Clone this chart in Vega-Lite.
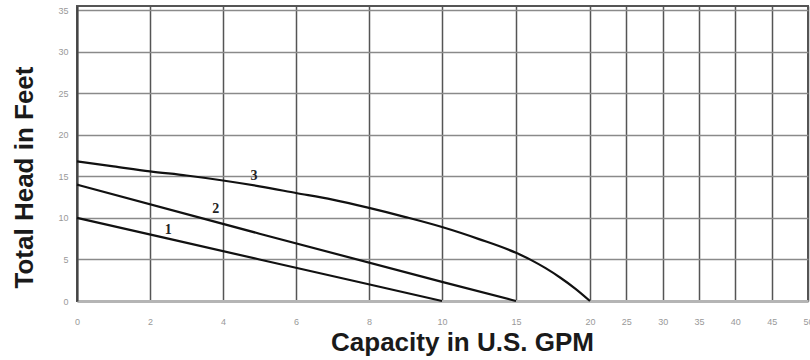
{
  "$schema": "https://vega.github.io/schema/vega-lite/v6.json",
  "autosize": "none",
  "width": 731,
  "height": 295,
  "padding": {"left": 77, "top": 6, "right": 2, "bottom": 59},
  "background": "white",
  "config": {
    "view": {"stroke": "#555", "strokeWidth": 2},
    "font": "Liberation Sans"
  },
  "datasets": {
    "curves": [
      {"series": "1", "gpm": 0, "head": 10},
      {"series": "1", "gpm": 5, "head": 5},
      {"series": "1", "gpm": 10, "head": 0},
      {"series": "2", "gpm": 0, "head": 14},
      {"series": "2", "gpm": 5, "head": 8.1},
      {"series": "2", "gpm": 10, "head": 2.3},
      {"series": "2", "gpm": 15, "head": 0},
      {"series": "3", "gpm": 0, "head": 16.8},
      {"series": "3", "gpm": 1, "head": 16.2},
      {"series": "3", "gpm": 2, "head": 15.6},
      {"series": "3", "gpm": 3, "head": 15.1},
      {"series": "3", "gpm": 4, "head": 14.5},
      {"series": "3", "gpm": 5, "head": 13.8},
      {"series": "3", "gpm": 6, "head": 13.0},
      {"series": "3", "gpm": 7, "head": 12.2},
      {"series": "3", "gpm": 8, "head": 11.2},
      {"series": "3", "gpm": 9, "head": 10.1},
      {"series": "3", "gpm": 10, "head": 8.9},
      {"series": "3", "gpm": 12.5, "head": 7.45},
      {"series": "3", "gpm": 15, "head": 5.8},
      {"series": "3", "gpm": 16, "head": 4.95},
      {"series": "3", "gpm": 17, "head": 3.95},
      {"series": "3", "gpm": 18, "head": 2.8},
      {"series": "3", "gpm": 19, "head": 1.5},
      {"series": "3", "gpm": 20, "head": 0}
    ],
    "labels": [
      {"gpm": 2.5, "head": 8.6, "label": "1"},
      {"gpm": 3.8, "head": 11.1, "label": "2"},
      {"gpm": 4.85, "head": 15.1, "label": "3"}
    ]
  },
  "layer": [
    {
      "data": {"name": "curves"},
      "mark": {"type": "line", "color": "#111", "strokeWidth": 2.2, "interpolate": "monotone"},
      "encoding": {
        "x": {
          "field": "gpm", "type": "quantitative",
          "scale": {"domain": [0, 10, 20, 50], "range": [0, 365, 513, 731], "nice": false, "zero": false},
          "axis": {
            "values": [0, 2, 4, 6, 8, 10, 15, 20, 25, 30, 35, 40, 45, 50],
            "labelFontSize": 9, "labelColor": "#999", "labelPadding": 16,
            "labelOverlap": false, "labelFlush": false,
            "ticks": false,
            "domainColor": "#b5b5b5", "domainWidth": 3,
            "grid": true, "gridColor": "#555", "gridWidth": 1.5,
            "title": "Capacity in U.S. GPM",
            "titleFont": "Liberation Sans", "titleFontSize": 26, "titleFontWeight": "bold",
            "titleColor": "#1a1a1a",
            "titleX": 385, "titleY": 41, "titleAlign": "center", "titleBaseline": "middle"
          }
        },
        "y": {
          "field": "head", "type": "quantitative",
          "scale": {"domain": [0, 35.5], "nice": false},
          "axis": {
            "values": [0, 5, 10, 15, 20, 25, 30, 35],
            "labelFontSize": 9, "labelColor": "#999", "labelPadding": 9,
            "labelOverlap": false, "labelFlush": false,
            "ticks": false,
            "domainColor": "#444", "domainWidth": 2,
            "grid": true, "gridColor": "#8a8a8a", "gridWidth": 1.5,
            "title": "Total Head in Feet",
            "titleFont": "Liberation Sans", "titleFontSize": 26, "titleFontWeight": "bold",
            "titleColor": "#1a1a1a",
            "titleAngle": 270,
            "titleX": -53, "titleY": 171, "titleAlign": "center", "titleBaseline": "middle"
          }
        },
        "detail": {"field": "series", "type": "nominal"}
      }
    },
    {
      "data": {"name": "labels"},
      "mark": {"type": "text", "font": "Liberation Serif", "fontWeight": "bold", "fontSize": 14, "color": "#222", "align": "center", "baseline": "middle"},
      "encoding": {
        "x": {"field": "gpm", "type": "quantitative"},
        "y": {"field": "head", "type": "quantitative"},
        "text": {"field": "label"}
      }
    }
  ]
}
